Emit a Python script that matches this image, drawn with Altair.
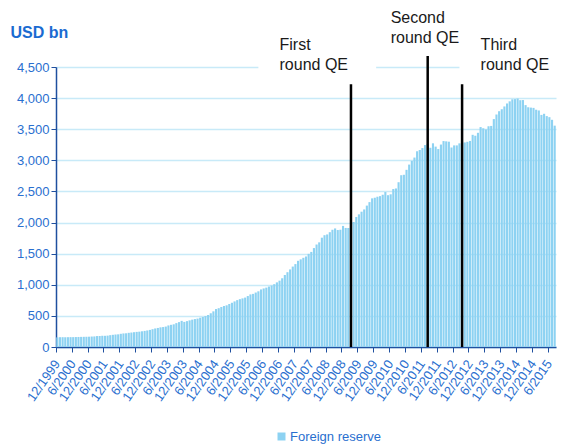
import altair as alt
import pandas as pd

# ---- data (USD bn, month-end) ----
v1999 = [154.7]
v2000 = [157.7, 157.9, 156.8, 157.9, 158.7, 158.6, 160.1, 161.5, 162.7, 163.6, 164.4, 165.6]
v2001 = [168.3, 170.0, 175.8, 176.6, 180.4, 180.1, 183.0, 190.3, 195.9, 200.7, 203.5, 212.2]
v2002 = [218.0, 220.5, 227.9, 232.5, 237.9, 242.8, 246.4, 252.4, 258.6, 265.7, 274.7, 286.4]
v2003 = [298.0, 306.1, 316.0, 320.6, 328.4, 346.5, 356.5, 364.7, 383.9, 400.0, 420.0, 403.3]
v2004 = [415.7, 428.0, 439.8, 448.9, 456.6, 470.6, 482.5, 496.6, 514.5, 542.1, 573.0, 609.9]
v2005 = [623.5, 642.6, 659.1, 670.0, 691.0, 711.0, 732.7, 753.3, 769.0, 781.5, 794.3, 818.9]
v2006 = [845.2, 853.7, 875.1, 895.0, 925.0, 941.1, 954.5, 971.9, 987.9, 1009.6, 1038.7, 1066.3]
v2007 = [1104.7, 1157.4, 1202.0, 1246.6, 1292.7, 1332.6, 1385.2, 1408.6, 1433.6, 1454.9, 1497.0, 1528.2]
v2008 = [1589.8, 1647.1, 1682.2, 1756.7, 1797.0, 1808.8, 1845.2, 1884.2, 1905.6, 1879.7, 1884.7, 1946.0]
v2009 = [1913.5, 1912.1, 1953.7, 2008.8, 2089.5, 2131.6, 2174.6, 2210.8, 2272.6, 2328.3, 2388.8, 2399.2]
v2010 = [2415.2, 2424.6, 2447.1, 2490.5, 2439.5, 2454.3, 2538.4, 2547.8, 2648.3, 2760.9, 2767.8, 2847.3]
v2011 = [2931.7, 2991.4, 3044.7, 3145.9, 3166.2, 3197.5, 3245.3, 3262.5, 3201.7, 3273.8, 3220.3, 3181.1]
v2012 = [3253.6, 3309.6, 3305.0, 3299.5, 3206.1, 3240.0, 3240.0, 3272.9, 3285.1, 3287.4, 3297.7, 3311.6]
v2013 = [3410.1, 3395.4, 3442.6, 3534.5, 3515.1, 3496.7, 3547.8, 3553.0, 3662.7, 3736.6, 3789.5, 3821.3]
v2014 = [3866.1, 3913.7, 3948.1, 3980.9, 3984.2, 3993.2, 3966.3, 3968.8, 3887.7, 3852.9, 3847.4, 3843.0]
v2015 = [3813.4, 3801.5, 3730.0, 3748.1, 3711.1, 3693.8, 3651.3, 3557.4]

values = (v1999 + v2000 + v2001 + v2002 + v2003 + v2004 + v2005 + v2006 +
          v2007 + v2008 + v2009 + v2010 + v2011 + v2012 + v2013 + v2014 + v2015)

months = []
for i in range(len(values)):
    m = 12 + i
    months.append(f"{(m - 1) % 12 + 1}/{1999 + (m - 1) // 12}")

tick_labels = [lab for lab in months if lab.split("/")[0] in ("6", "12")]
y_ticks = [0, 500, 1000, 1500, 2000, 2500, 3000, 3500, 4000, 4500]

qe_line_month = ["3/2009", "8/2011", "9/2012"]
qe_line_top = [4222, 4677, 4222]
qe_text = ["First\nround QE", "Second\nround QE", "Third\nround QE"]
qe_text_month = ["12/2006", "6/2010", "4/2013"]
qe_text_y = [4773, 5212, 4773]
box_start = ["4/2006", "8/2012"]
box_end = ["11/2009", "8/2015"]
box_lo = [4400, 4400]
box_hi = [4650, 4650]

df = pd.DataFrame({"month": months, "value": values, "series": "Foreign reserve"})
lines_df = pd.DataFrame({"month": qe_line_month, "y0": 0, "y1": qe_line_top})
text_df = pd.DataFrame({"month": qe_text_month, "y": qe_text_y, "label": qe_text})
box_df = pd.DataFrame({"m0": box_start, "m1": box_end, "lo": box_lo, "hi": box_hi})

FONT = "Liberation Sans"
BAR = "#8dd2f2"
LBL = "#2a6fcf"
DARK = "#1f4f9f"

xscale = alt.Scale(domain=months, paddingInner=0.2, paddingOuter=0.1)
yscale = alt.Scale(domain=[0, 4500], nice=False)

x_axis = alt.Axis(values=tick_labels, title=None, labelAngle=-55,
                  bandPosition=0, labelFontSize=13, labelColor=LBL,
                  labelFont=FONT, domainColor=DARK, tickColor=DARK,
                  tickSize=5, labelPadding=9, grid=False, domainWidth=1.5)
y_axis = alt.Axis(values=y_ticks, format=",.0f", title="USD bn",
                  titleAngle=0, titleAlign="left", titleBaseline="alphabetic",
                  titleX=-46, titleY=-30, titleFont=FONT, titleFontSize=16,
                  titleFontWeight="bold", titleColor="#1a6bd1",
                  labelFontSize=13, labelColor=LBL, labelFont=FONT,
                  domainColor=DARK, tickColor=DARK, tickSize=5,
                  gridColor="#c8eaf8", gridWidth=1.5, domainWidth=1.5)

bars = alt.Chart(df).mark_bar(color=BAR).encode(
    x=alt.X("month:N", sort=months, scale=xscale, axis=x_axis),
    y=alt.Y("value:Q", scale=yscale, axis=y_axis),
    color=alt.Color("series:N", scale=alt.Scale(range=[BAR]),
                    legend=alt.Legend(title=None, orient="none", legendX=219, legendY=363,
                                      symbolType="square", symbolSize=64,
                                      labelFontSize=13, labelColor=LBL, labelFont=FONT,
                                      labelOffset=2, padding=0, symbolStrokeWidth=0)),
)

boxes = alt.Chart(box_df).mark_rect(color="white", x2Offset=4).encode(
    x=alt.X("m0:N", sort=months, scale=xscale, axis=x_axis),
    x2="m1:N",
    y=alt.Y("lo:Q", scale=yscale, axis=y_axis),
    y2="hi:Q",
)

rules = alt.Chart(lines_df).mark_rule(color="black", strokeWidth=2.5).encode(
    x=alt.X("month:N", sort=months, scale=xscale, axis=x_axis),
    y=alt.Y("y0:Q", scale=yscale, axis=y_axis),
    y2="y1:Q",
)

texts = alt.Chart(text_df).mark_text(
    align="left", baseline="alphabetic", font=FONT, fontSize=16,
    color="#1a1a1a", lineBreak="\n", lineHeight=20,
).encode(
    x=alt.X("month:N", sort=months, scale=xscale, axis=x_axis),
    y=alt.Y("y:Q", scale=yscale, axis=y_axis),
    text="label:N",
)

chart = alt.layer(bars, boxes, rules, texts).properties(
    width=500, height=280,
    autosize=alt.AutoSizeParams(type="none"),
    padding={"left": 48, "top": 59, "right": 8, "bottom": 99},
).configure_view(stroke=None)

chart.save("out.html", embed_options={"renderer": "svg", "actions": False})
